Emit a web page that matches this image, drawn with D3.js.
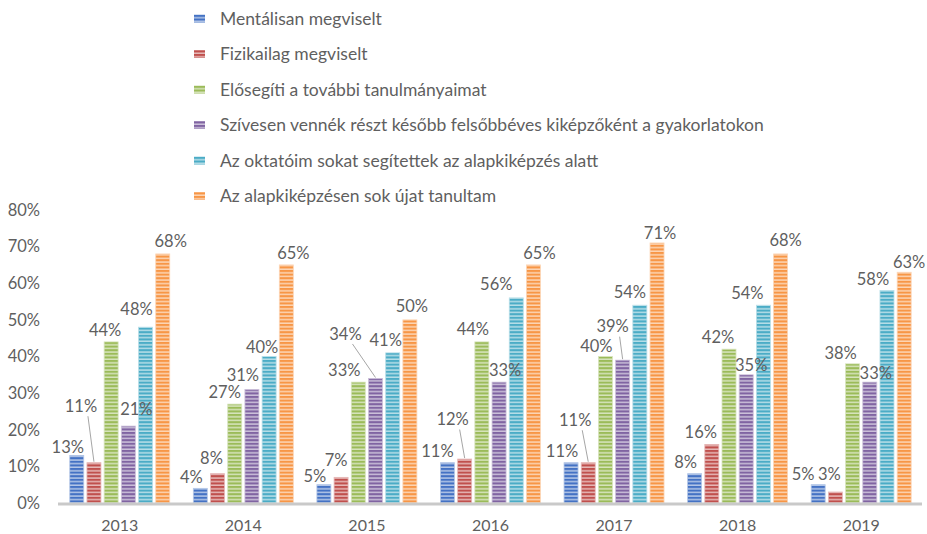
<!DOCTYPE html>
<html>
<head>
<meta charset="utf-8">
<title>Kérdőív eredmények</title>
<script src="https://cdn.jsdelivr.net/npm/d3@7"></script>
<style>
    body { margin: 0; background: #fff; }
    text { font-family: Lato, "Open Sans", sans-serif; fill: #5f5f5f; }
</style>
</head>
<body>
<div class="chart"></div>
<script>
    // categories
    var years = ["2013", "2014", "2015", "2016", "2017", "2018", "2019"];
    var seriesNames = [
        "Mentálisan megviselt",
        "Fizikailag megviselt",
        "Elősegíti a további tanulmányaimat",
        "Szívesen vennék részt később felsőbbéves kiképzőként a gyakorlatokon",
        "Az oktatóim sokat segítettek az alapkiképzés alatt",
        "Az alapkiképzésen sok újat tanultam"
    ];

    // series values (%)
    var mentalis   = [13, 4, 5, 11, 11, 8, 5];
    var fizikai    = [11, 8, 7, 12, 11, 16, 3];
    var elosegiti  = [44, 27, 33, 44, 40, 42, 38];
    var szivesen   = [21, 31, 34, 33, 39, 35, 33];
    var oktatok    = [48, 40, 41, 56, 54, 54, 58];
    var ujat       = [68, 65, 50, 65, 71, 68, 63];

    var yTicks = [0, 10, 20, 30, 40, 50, 60, 70, 80];

    var colors = ["#4472c4", "#c0504d", "#9bbb59", "#8064a2", "#4bacc6", "#f79646"];

    // hand-moved data labels (dx, dy from the default spot), like in the original
    var labelNudge = [
        [[-9, 3], [-9, 0], [-9, 3], [-10, 0], [-9, 0], [-9, 0], [-15, 1]],
        [[-13, -45], [-6, -4], [-5, -6], [-12, -28], [-13, -31], [-11, -1], [-6, -6]],
        [[-6, 0], [-10, 0], [-14, 0], [-9, -1], [-9, 1], [-11, 0], [-12, 1]],
        [[8, -5], [-9, -3], [-30, -33], [6, 0], [-10, -22], [5, 2], [6, 3]],
        [[-9, -6], [-7, 2], [-7, -1], [-20, -2], [-10, -2], [-16, -1], [-14, 0]],
        [[8, -1], [7, 0], [2, -2], [6, 0], [3, 2], [5, -2], [5, 1]]
    ];

    var allValues = [mentalis, fizikai, elosegiti, szivesen, oktatok, ujat];

    var width = 927, height = 534;
    var plotLeft = 58, plotRight = 923, plotTop = 210, plotBottom = 503;

    var svg = d3.select(".chart").append("svg")
        .attr("width", width)
        .attr("height", height);

    // striped fills
    var defs = svg.append("defs");
    colors.forEach(function(c, i) {
        var p = defs.append("pattern")
            .attr("id", "stripe" + i)
            .attr("patternUnits", "userSpaceOnUse")
            .attr("width", 8).attr("height", 3.6);
        p.append("rect").attr("width", 8).attr("height", 3.6)
            .attr("fill", d3.interpolateRgb(c, "#ffffff")(0.6));
        p.append("rect").attr("width", 8).attr("height", 2.1)
            .attr("fill", c);
    });

    var x0 = d3.scaleBand().domain(years).range([plotLeft, plotRight]);
    var x1 = d3.scaleBand().domain(d3.range(6))
        .range([11.75, 111.75]).paddingInner(0.186);
    var y = d3.scaleLinear().domain([0, 80]).range([plotBottom, plotTop]);

    // y axis labels
    svg.append("g").selectAll("text")
        .data(yTicks)
        .enter().append("text")
        .attr("x", 40)
        .attr("y", function(d) { return y(d); })
        .attr("dy", "0.35em")
        .attr("text-anchor", "end")
        .style("font-size", "16.5px")
        .text(function(d) { return d + "%"; });

    // bars
    var groups = svg.append("g").selectAll("g")
        .data(years)
        .enter().append("g")
        .attr("transform", function(d) { return "translate(" + x0(d) + ",0)"; });

    groups.selectAll("rect")
        .data(function(d, i) {
            return allValues.map(function(arr, s) { return { s: s, v: arr[i], yi: i }; });
        })
        .enter().append("rect")
        .attr("x", function(d) { return x1(d.s); })
        .attr("y", function(d) { return y(d.v); })
        .attr("width", x1.bandwidth())
        .attr("height", function(d) { return plotBottom - y(d.v); })
        .attr("fill", function(d) { return "url(#stripe" + d.s + ")"; })
        .attr("stroke", function(d) { return d3.interpolateRgb(colors[d.s], "#ffffff")(0.6); })
        .attr("stroke-width", 0.8);

    // x axis line
    svg.append("line")
        .attr("x1", plotLeft).attr("x2", plotRight - 1)
        .attr("y1", plotBottom + 1).attr("y2", plotBottom + 1)
        .attr("stroke", "#c9c9c9")
        .attr("stroke-width", 3);

    // year labels
    svg.append("g").selectAll("text")
        .data(years)
        .enter().append("text")
        .attr("x", function(d) { return x0(d) + x0.bandwidth() / 2; })
        .attr("y", 525)
        .attr("dy", "0.35em")
        .attr("text-anchor", "middle")
        .style("font-size", "16px")
        .text(function(d) { return d; });

    // data labels + leader lines
    var labels = [];
    allValues.forEach(function(arr, s) {
        arr.forEach(function(v, i) {
            var cx = x0(years[i]) + x1(s) + x1.bandwidth() / 2;
            var top = y(v);
            var n = labelNudge[s][i];
            labels.push({ v: v, bx: cx, by: top, lx: cx + n[0], ly: top - 11.5 + n[1], lead: n[1] < -15 });
        });
    });

    svg.append("g").selectAll("line")
        .data(labels.filter(function(d) { return d.lead; }))
        .enter().append("line")
        .attr("x1", function(d) { return d.lx + 7; })
        .attr("y1", function(d) { return d.ly + 10; })
        .attr("x2", function(d) { return d.bx; })
        .attr("y2", function(d) { return d.by - 1; })
        .attr("stroke", "#a6a6a6")
        .attr("stroke-width", 1);

    svg.append("g").selectAll("text")
        .data(labels)
        .enter().append("text")
        .attr("x", function(d) { return d.lx; })
        .attr("y", function(d) { return d.ly; })
        .attr("dy", "0.35em")
        .attr("text-anchor", "middle")
        .style("font-size", "16.5px")
        .text(function(d) { return d.v + "%"; });

    // legend
    var legend = svg.append("g").selectAll("g")
        .data(seriesNames)
        .enter().append("g")
        .attr("transform", function(d, i) { return "translate(194," + (18.5 + i * 35.5) + ")"; });

    legend.append("rect")
        .attr("x", 0).attr("y", -4)
        .attr("width", 11).attr("height", 8)
        .attr("fill", function(d, i) { return "url(#stripe" + i + ")"; });

    legend.append("text")
        .attr("x", 26)
        .attr("dy", "0.35em")
        .style("font-size", "17.5px")
        .text(function(d) { return d; });
</script>
</body>
</html>
